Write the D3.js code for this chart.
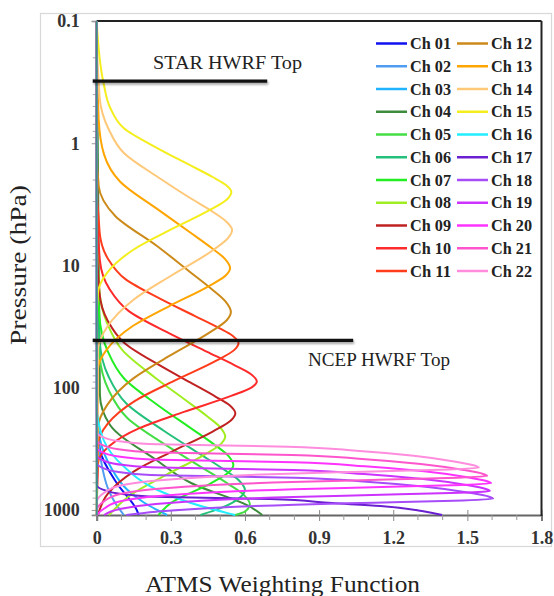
<!DOCTYPE html>
<html><head><meta charset="utf-8">
<script src="https://cdn.jsdelivr.net/npm/d3@7"></script>
<style>body{margin:0;background:#fff}</style>
</head><body>
<svg id="chart" width="554" height="596"></svg>
<script>
// ---------------- DATA ----------------
const channels = ["Ch 01","Ch 02","Ch 03","Ch 04","Ch 05","Ch 06","Ch 07","Ch 08","Ch 09","Ch 10","Ch 11",
                  "Ch 12","Ch 13","Ch 14","Ch 15","Ch 16","Ch 17","Ch 18","Ch 19","Ch 20","Ch 21","Ch 22"];
const colors = ["#1010f0","#4f9cf0","#20b4ff","#3c8c3c","#44dd44","#22c07a","#22ee22","#a0ee22","#c02222","#ff2a2a","#ff3c1c",
                "#cc8a1a","#ffa500","#ffc878","#f4ee1c","#22eeff","#6a1fd0","#a64cf8","#cc33ff","#ff33ff","#ff55cc","#ff8cdc"];
// pressure levels (hPa) for each channel's weighting function
const pressures = [
  [0.1,167,323,602,1001,1100],
  [0.1,138.6,267.8,445.4,687,877.7,1100],
  [0.1,138.6,267.8,445.4,687,877.7,1100],
  [0.1,114.8,201.9,390.4,602.2,946.2,1100],
  [0.1,11.6,54.89,106.3,176.9,294,452.5,614.7,753.2,900,1026.9,1100],
  [0.1,8.843,41.84,81.02,134.8,224.1,344.9,468.5,574.1,686,782.7,963.1,1100],
  [0.1,5.517,26.1,50.55,84.1,139.8,215.2,292.3,358.2,428,488.3,600.9,875.7,1100],
  [0.1,3.235,15.31,29.64,49.32,82.0,126.2,171.4,210.1,251,286.4,352.4,513.5,748.2,1100],
  [0.1,4.687,16.59,28.41,43.01,65.09,92.6,118.7,140.1,162,184.8,227.4,331.5,482.9,744.9,1085],
  [0.1,2.575,9.114,15.61,23.63,35.76,50.87,65.22,76.99,89,98.9,116.7,157.8,213.3,301.6,407.7,1100],
  [0.1,1.716,5.418,8.841,12.88,18.77,25.84,32.42,37.71,43,49.06,60.37,87.98,128.2,197.7,288.1,1100],
  [0.1,1.073,2.237,3.934,6.924,11.19,15.71,19.7,24,27.94,35.45,54.67,84.31,138.7,214,1100],
  [0.1,0.1353,0.6404,1.24,2.063,3.43,5.279,7.172,8.787,10.5,11.98,14.74,21.48,31.3,48.28,70.35,1100],
  [0.1,0.1078,0.427,0.764,1.202,1.889,2.805,3.65,4.408,5.124,5.957,7.754,12.19,19.15,31.85,50.05,1100],
  [0.1,0.316,0.515,0.75,1.094,1.506,1.889,2.195,2.506,2.858,3.516,5.124,7.47,11.5,16.8,30,1100],
  [0.1,138.6,267.8,445.4,687,877.7,1100],
  [0.1,625,700,755,784,814,878,928.5,1020,1100],
  [0.1,410.6,459.7,495.8,519.7,544.7,587.3,645.5,722.6,779.1,809,840.1,872.3,905.8,958.5,1033.4,1100],
  [0.1,355.3,397.7,429.0,449.7,471.3,508.2,558.5,625.2,674.1,700,726.9,754.8,783.7,829.4,894.2,982.5,1100],
  [0.1,307.1,343.8,370.7,388.7,407.3,439.2,482.7,540.4,582.6,605,628.2,652.4,677.4,716.8,772.8,849.2,968.7,1100],
  [0.1,267.5,299.4,322.9,338.5,354.8,382.6,420.5,470.7,507.5,527,547.2,568.3,590.0,624.4,673.2,739.7,843.8,1018.6,1100],
  [0.1,228.9,256.3,276.4,289.7,303.7,327.4,359.9,402.8,434.3,451,468.3,486.3,504.9,534.3,576.1,633.0,722.1,871.7,1100]
];
// weighting function values for each channel
const weights = [
  [0,0,0.013,0.081,0.162,0.17],
  [0,0,0.006,0.022,0.048,0.075,0.11],
  [0,0,0.014,0.057,0.125,0.194,0.285],
  [0,0.013,0.054,0.241,0.382,0.623,0.67],
  [0,0,0.012,0.05,0.124,0.279,0.428,0.533,0.595,0.62,0.601,0.56],
  [0,0,0.012,0.048,0.12,0.27,0.414,0.516,0.576,0.6,0.582,0.504,0.42],
  [0,0,0.011,0.045,0.111,0.249,0.382,0.476,0.531,0.553,0.536,0.465,0.301,0.25],
  [0,0,0.01,0.042,0.104,0.234,0.359,0.447,0.499,0.52,0.504,0.437,0.283,0.14,0.05],
  [0,0,0.011,0.045,0.112,0.252,0.387,0.482,0.539,0.561,0.544,0.471,0.306,0.151,0.043,0.006],
  [0,0,0.013,0.052,0.13,0.292,0.447,0.557,0.622,0.648,0.629,0.544,0.353,0.175,0.05,0.006,0],
  [0,0,0.012,0.046,0.115,0.258,0.396,0.494,0.551,0.574,0.557,0.482,0.313,0.155,0.044,0.006,0],
  [0,0,0.008,0.075,0.244,0.375,0.467,0.521,0.543,0.527,0.456,0.296,0.147,0.042,0.005,0],
  [0,0,0.008,0.03,0.095,0.243,0.373,0.464,0.518,0.54,0.524,0.454,0.294,0.146,0.042,0.005,0],
  [0,0,0.012,0.048,0.11,0.247,0.378,0.471,0.526,0.548,0.532,0.46,0.299,0.148,0.042,0.005,0],
  [0,0.027,0.055,0.109,0.245,0.376,0.469,0.523,0.545,0.529,0.458,0.297,0.147,0.042,0.005,0,0],
  [0,0,0.028,0.112,0.246,0.381,0.56],
  [0,0,0.042,0.14,0.28,0.7,0.952,1.148,1.316,1.398],
  [0,0,0.032,0.112,0.257,0.802,1.091,1.331,1.508,1.588,1.604,1.444,1.123,0.802,0.481,0.241,0.12],
  [0,0,0.032,0.111,0.255,0.796,1.082,1.321,1.496,1.575,1.591,1.432,1.114,0.796,0.477,0.239,0.095,0.03],
  [0,0,0.032,0.112,0.255,0.798,1.085,1.325,1.5,1.58,1.596,1.436,1.117,0.798,0.479,0.239,0.096,0.032,0],
  [0,0,0.032,0.111,0.253,0.79,1.074,1.311,1.485,1.564,1.58,1.422,1.106,0.79,0.474,0.237,0.095,0.032,0,0],
  [0,0,0.031,0.108,0.247,0.773,1.051,1.283,1.453,1.531,1.546,1.391,1.082,0.773,0.464,0.232,0.093,0.031,0,0]
];
const xTicks = [0,0.3,0.6,0.9,1.2,1.5,1.8];
const xTickLabels = ["0","0.3","0.6","0.9","1.2","1.5","1.8"];
const yTicks = [0.1,1,10,100,1000];
const yTickLabels = ["0.1","1","10","100","1000"];
const topNames = ["STAR HWRF Top","NCEP HWRF Top"];
const topPressures = [0.31,41];

// ---------------- LAYOUT ----------------
const W = 554, H = 596;
const L = 96.7, R = 541.5, T = 21, B = 515;
const svg = d3.select("#chart");
const serif = "'Liberation Serif','Times New Roman',serif";

svg.append("rect").attr("width",W).attr("height",H).attr("fill","#fff");
svg.append("rect").attr("x",40.5).attr("y",13.5).attr("width",511).attr("height",533)
   .attr("fill","none").attr("stroke","#d8d8d8").attr("stroke-width",1.2);

const x = d3.scaleLinear().domain([0,1.8]).range([L,R]);
const y = d3.scaleLog().domain([0.1,1100]).range([T,B]);

const defs = svg.append("defs");
defs.append("clipPath").attr("id","plotclip").append("rect")
  .attr("x",L-1).attr("y",T-1).attr("width",R-L+2).attr("height",B-T+2);
defs.append("filter").attr("id","blur").attr("filterUnits","userSpaceOnUse")
  .attr("x",0).attr("y",0).attr("width",W).attr("height",H)
  .append("feGaussianBlur").attr("stdDeviation",1.3);

// axes
const xAxis = d3.axisBottom(x).tickValues(xTicks).tickFormat((d,i)=>xTickLabels[i]).tickSize(6).tickPadding(10);
const gx = svg.append("g").attr("transform",`translate(0,${B})`).call(xAxis);
gx.select(".domain").attr("stroke","#666").attr("stroke-width",2);
gx.selectAll(".tick line").attr("stroke","#888").attr("y1",-5);
gx.selectAll("text").attr("font-family",serif).attr("font-size",18).attr("font-weight","bold").attr("fill","#333");
const xMinor = d3.range(1,18).map(i=>i*0.1).filter(v=>Math.abs(v/0.3-Math.round(v/0.3))>0.01);
svg.append("g").selectAll("line").data(xMinor).join("line")
  .attr("x1",d=>x(d)).attr("x2",d=>x(d)).attr("y1",B).attr("y2",B+5).attr("stroke","#999");

const yAxis = d3.axisLeft(y).tickValues(yTicks).tickFormat((d,i)=>yTickLabels[i]).tickSize(5).tickPadding(12);
const gy = svg.append("g").attr("transform",`translate(${L},0)`).call(yAxis);
gy.select(".domain").attr("stroke","#777").attr("stroke-width",1.5);
gy.selectAll(".tick line").attr("stroke","#999");
gy.selectAll("text").attr("font-family",serif).attr("font-size",18).attr("font-weight","bold").attr("fill","#333");
const yMinor = [];
[0.1,1,10,100].forEach(b=>{for(let k=2;k<=9;k++) yMinor.push(b*k);});
yMinor.push(1100);
svg.append("g").selectAll("line").data(yMinor).join("line")
  .attr("x1",L-4).attr("x2",L).attr("y1",d=>y(d)).attr("y2",d=>y(d)).attr("stroke","#aaa");

// plot frame top/right
svg.append("line").attr("x1",L).attr("x2",R).attr("y1",T).attr("y2",T).attr("stroke","#222").attr("stroke-width",2);
svg.append("line").attr("x1",R).attr("x2",R).attr("y1",T).attr("y2",B+1).attr("stroke","#222").attr("stroke-width",2);

// curves
const line = d3.line().x(d=>x(d[1])).y(d=>y(d[0])).curve(d3.curveMonotoneY);
const gc = svg.append("g").attr("clip-path","url(#plotclip)");
channels.forEach((c,i)=>{
  const pts = pressures[i].map((p,j)=>[p,weights[i][j]]);
  gc.append("path").attr("d",line(pts)).attr("fill","none")
    .attr("stroke",colors[i]).attr("stroke-width",2).attr("stroke-linejoin","round");
});
// axis line on top (curve tails run along it)
svg.append("line").attr("x1",L).attr("x2",L).attr("y1",T).attr("y2",B)
  .attr("stroke","#3a8f86").attr("stroke-width",2);

// HWRF top lines
const topEnds = [0.69,1.038];
topNames.forEach((n,i)=>{
  const yy = y(topPressures[i]);
  svg.append("line").attr("x1",L-3).attr("x2",x(topEnds[i])+1).attr("y1",yy+2).attr("y2",yy+2)
    .attr("stroke","#000").attr("stroke-opacity",0.35).attr("stroke-width",3.2).attr("filter","url(#blur)");
  svg.append("line").attr("x1",L-4).attr("x2",x(topEnds[i])).attr("y1",yy).attr("y2",yy)
    .attr("stroke","#111").attr("stroke-width",3.2);
});
svg.append("text").attr("x",153).attr("y",68.5).attr("font-family",serif).attr("font-size",18)
  .attr("textLength",149).attr("lengthAdjust","spacingAndGlyphs").attr("fill","#222").text(topNames[0]);
svg.append("text").attr("x",308).attr("y",366).attr("font-family",serif).attr("font-size",18)
  .attr("textLength",142).attr("lengthAdjust","spacingAndGlyphs").attr("fill","#222").text(topNames[1]);

// legend
const lg = svg.append("g");
channels.forEach((c,i)=>{
  const col = i < 11 ? 0 : 1, row = i % 11;
  const lx = col === 0 ? 376 : 457, ly = 43.5 + row*22.75;
  lg.append("line").attr("x1",lx).attr("x2",lx+31).attr("y1",ly).attr("y2",ly)
    .attr("stroke",colors[i]).attr("stroke-width",2.5);
  lg.append("text").attr("x",lx+34).attr("y",ly+5.5).attr("font-family",serif).attr("font-size",16)
    .attr("font-weight","bold").attr("fill","#222").attr("textLength",41).attr("lengthAdjust","spacingAndGlyphs").text(c);
});

// axis titles
svg.append("text").attr("x",145).attr("y",592).attr("font-family",serif).attr("font-size",23)
  .attr("textLength",275).attr("lengthAdjust","spacingAndGlyphs").attr("fill","#222").text("ATMS Weighting Function");
svg.append("text").attr("transform","translate(26,345) rotate(-90)").attr("font-family",serif).attr("font-size",23)
  .attr("textLength",160).attr("lengthAdjust","spacingAndGlyphs").attr("fill","#222").text("Pressure (hPa)");
</script>
</body></html>
